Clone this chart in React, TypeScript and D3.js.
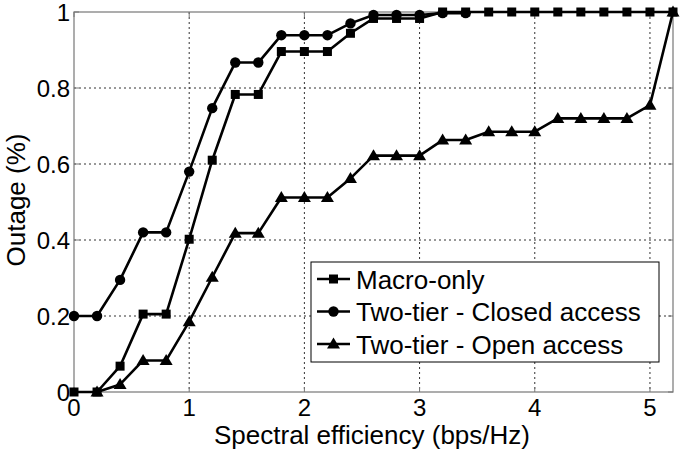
import React from "react";
import * as d3 from "d3";

const W = 685;
const H = 451;

const xValues = [0, 0.2, 0.4, 0.6, 0.8, 1.0, 1.2, 1.4, 1.6, 1.8, 2.0, 2.2, 2.4, 2.6, 2.8, 3.0, 3.2, 3.4, 3.6, 3.8, 4.0, 4.2, 4.4, 4.6, 4.8, 5.0, 5.2];

const macroOnly = [0, 0, 0.068, 0.205, 0.205, 0.402, 0.61, 0.783, 0.783, 0.896, 0.896, 0.896, 0.944, 0.983, 0.983, 0.983, 1, 1, 1, 1, 1, 1, 1, 1, 1, 1, 1];
const closedAccess = [0.2, 0.2, 0.295, 0.42, 0.42, 0.58, 0.747, 0.867, 0.867, 0.939, 0.939, 0.939, 0.97, 0.992, 0.992, 0.992, 0.997, 0.997];
const openAccess = [null, 0, 0.02, 0.083, 0.083, 0.185, 0.302, 0.418, 0.418, 0.512, 0.512, 0.512, 0.562, 0.622, 0.622, 0.622, 0.663, 0.663, 0.685, 0.685, 0.685, 0.72, 0.72, 0.72, 0.72, 0.755, 1];

const xTicks = [0, 1, 2, 3, 4, 5];
const yTicks = [0, 0.2, 0.4, 0.6, 0.8, 1];
const legendLabels = ["Macro-only", "Two-tier - Closed access", "Two-tier - Open access"];

const FONT = "'Liberation Sans', Arial, sans-serif";

function Marker({ kind, x, y }: { kind: string; x: number; y: number }) {
  if (kind === "square") return <rect x={x - 4.5} y={y - 4.5} width={9} height={9} fill="#000" />;
  if (kind === "circle") return <circle cx={x} cy={y} r={5.2} fill="#000" />;
  const s = 6.5;
  return <path d={`M${x},${y - s} L${x + s},${y + s * 0.7} L${x - s},${y + s * 0.7} Z`} fill="#000" />;
}

export default function App() {
  const left = 74, right = 673, top = 12, bottom = 392;
  const x = d3.scaleLinear().domain([0, 5.2]).range([left, right]);
  const y = d3.scaleLinear().domain([0, 1]).range([bottom, top]);

  const series = [
    { kind: "square", values: macroOnly },
    { kind: "circle", values: closedAccess },
    { kind: "triangle", values: openAccess },
  ];

  const line = d3
    .line<[number, number | null]>()
    .defined((d) => d[1] !== null)
    .x((d) => x(d[0]))
    .y((d) => y(d[1] as number));

  return (
    <svg width={W} height={H} style={{ position: "absolute", left: 0, top: 0, background: "#fff" }}>
      <rect x={0} y={0} width={W} height={H} fill="#fff" />
      {/* grid */}
      {xTicks.slice(1).map((t) => (
        <line key={"gx" + t} x1={x(t)} x2={x(t)} y1={top} y2={bottom} stroke="#333" strokeWidth={1} strokeDasharray="2,3" />
      ))}
      {yTicks.slice(1, -1).map((t) => (
        <line key={"gy" + t} x1={left} x2={right} y1={y(t)} y2={y(t)} stroke="#333" strokeWidth={1} strokeDasharray="2,3" />
      ))}
      {/* axes box */}
      <rect x={left} y={top} width={right - left} height={bottom - top} fill="none" stroke="#777" strokeWidth={1.2} />
      {/* ticks */}
      {xTicks.map((t) => (
        <g key={"tx" + t}>
          <line x1={x(t)} x2={x(t)} y1={bottom} y2={bottom - 5} stroke="#777" />
          <line x1={x(t)} x2={x(t)} y1={top} y2={top + 5} stroke="#777" />
        </g>
      ))}
      {yTicks.map((t) => (
        <g key={"ty" + t}>
          <line x1={left} x2={left + 5} y1={y(t)} y2={y(t)} stroke="#777" />
          <line x1={right} x2={right - 5} y1={y(t)} y2={y(t)} stroke="#777" />
        </g>
      ))}
      {/* tick labels */}
      {xTicks.map((t) => (
        <text key={"lx" + t} x={x(t)} y={416} fontFamily={FONT} fontSize={24} textAnchor="middle" fill="#000">
          {d3.format("d")(t)}
        </text>
      ))}
      {yTicks.map((t) => (
        <text key={"ly" + t} x={70} y={y(t) + 8.5} fontFamily={FONT} fontSize={24} textAnchor="end" fill="#000">
          {t === 0 || t === 1 ? String(t) : d3.format(".1f")(t)}
        </text>
      ))}
      {/* axis labels */}
      <text x={372} y={444} fontFamily={FONT} fontSize={26} textAnchor="middle" fill="#000">
        Spectral efficiency (bps/Hz)
      </text>
      <text transform={`translate(25,${200}) rotate(-90)`} fontFamily={FONT} fontSize={26} textAnchor="middle" fill="#000">
        Outage (%)
      </text>
      {/* series */}
      {series.map((s) => {
        const pts = xValues
          .map((xv, i) => [xv, i < s.values.length ? (s.values[i] as number | null) : null] as [number, number | null]);
        return (
          <g key={s.kind}>
            <path d={line(pts) || ""} fill="none" stroke="#000" strokeWidth={2.6} strokeLinejoin="round" />
            {pts
              .filter((p) => p[1] !== null)
              .map((p, i) => (
                <Marker key={i} kind={s.kind} x={x(p[0])} y={y(p[1] as number)} />
              ))}
          </g>
        );
      })}
      {/* legend */}
      <g>
        <rect x={311} y={262} width={348} height={100} fill="#fff" stroke="#000" strokeWidth={1} />
        {legendLabels.map((lab, i) => {
          const ly = 279 + i * 32.5;
          return (
            <g key={lab}>
              <line x1={317} x2={350} y1={ly} y2={ly} stroke="#000" strokeWidth={2.6} />
              <Marker kind={series[i].kind} x={333.5} y={ly} />
              <text x={356} y={ly + 9.5} fontFamily={FONT} fontSize={26} fill="#000">
                {lab}
              </text>
            </g>
          );
        })}
      </g>
    </svg>
  );
}
